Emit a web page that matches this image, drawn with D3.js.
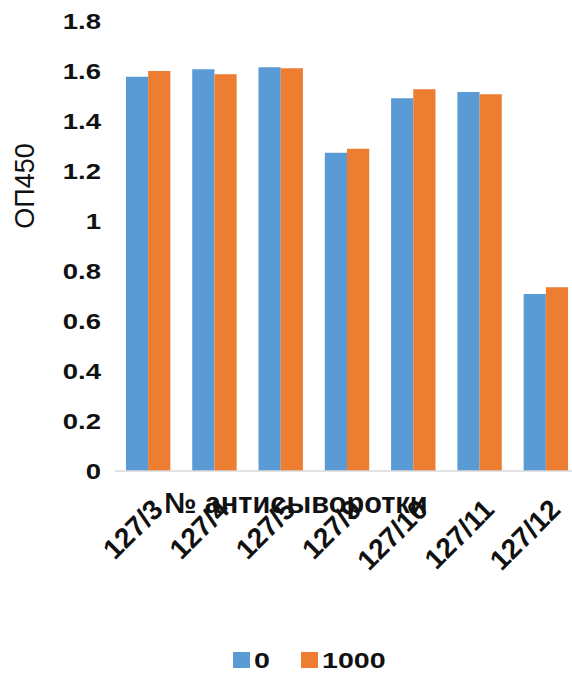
<!DOCTYPE html>
<html>
<head>
<meta charset="utf-8">
<script src="https://cdn.jsdelivr.net/npm/d3@7/dist/d3.min.js"></script>
<style>
  html, body { margin: 0; padding: 0; background: #fff; }
  svg { display: block; font-family: "Liberation Sans", Arial, sans-serif; }
</style>
</head>
<body>
<svg id="chart" width="572" height="676"></svg>
<script>
// Antiserum numbers along the x axis
const categories = ["127/3", "127/4", "127/5", "127/9", "127/10", "127/11", "127/12"];
// Series names (dilution) shown in the legend
const seriesNames = ["0", "1000"];
// OD450 readings per antiserum for each series
const values0 = [1.577, 1.607, 1.615, 1.273, 1.491, 1.516, 0.708];
const values1000 = [1.600, 1.587, 1.611, 1.289, 1.527, 1.507, 0.735];
// Y axis tick values
const yTicks = [0, 0.2, 0.4, 0.6, 0.8, 1, 1.2, 1.4, 1.6, 1.8];

const colors = ["#5b9bd5", "#ed7d31"];
const seriesValues = [values0, values1000];

const svg = d3.select("#chart");

const y = d3.scaleLinear().domain([0, 1.8]).range([471, 21]);
const x = d3.scaleBand().domain(categories).range([115, 579])
  .paddingInner(0.33).paddingOuter(0.165);
const xs = d3.scaleBand().domain(d3.range(seriesNames.length))
  .range([0, x.bandwidth()]);

// Bars
const groups = svg.append("g").selectAll("g")
  .data(categories)
  .join("g")
  .attr("transform", d => `translate(${x(d)},0)`);

groups.selectAll("rect")
  .data((d, i) => seriesValues.map((vals, s) => ({ s, v: vals[i] })))
  .join("rect")
  .attr("x", d => xs(d.s))
  .attr("width", xs.bandwidth())
  .attr("y", d => y(d.v))
  .attr("height", d => y(0) - y(d.v))
  .attr("fill", d => colors[d.s]);

// Baseline
svg.append("line")
  .attr("x1", 115).attr("x2", 579)
  .attr("y1", y(0)).attr("y2", y(0))
  .attr("stroke", "#d9d9d9").attr("stroke-width", 1.5);

// Y tick labels (wide bold digits)
svg.append("g").selectAll("text")
  .data(yTicks)
  .join("text")
  .attr("transform", d => `translate(101,${y(d)}) scale(1.25,1)`)
  .attr("text-anchor", "end")
  .attr("dy", "0.36em")
  .attr("font-weight", "bold")
  .attr("font-size", 22)
  .attr("fill", "#111")
  .text(d => d3.format("~g")(d));

// Y axis title
svg.append("text")
  .attr("transform", "translate(34,186) rotate(-90)")
  .attr("text-anchor", "middle")
  .attr("font-size", 27)
  .attr("fill", "#111")
  .text("ОП450");

// X tick labels, rotated
svg.append("g").selectAll("text")
  .data(categories)
  .join("text")
  .attr("transform", d => `translate(${x(d) + x.bandwidth() / 2 + 2},${497}) rotate(-45)`)
  .attr("text-anchor", "end")
  .attr("dy", "0.72em")
  .attr("font-weight", "bold")
  .attr("font-size", 28)
  .attr("fill", "#111")
  .text(d => d);

// X axis title
svg.append("text")
  .attr("x", 296).attr("y", 513)
  .attr("text-anchor", "middle")
  .attr("font-weight", "bold")
  .attr("font-size", 29)
  .attr("fill", "#111")
  .text("№ антисыворотки");

// Legend
const legendX = [233, 301];
const legend = svg.append("g").selectAll("g")
  .data(seriesNames)
  .join("g")
  .attr("transform", (d, i) => `translate(${legendX[i]},652)`);
legend.append("rect")
  .attr("width", 17).attr("height", 16)
  .attr("fill", (d, i) => colors[i]);
legend.append("text")
  .attr("transform", "translate(21,16) scale(1.3,1)")
  .attr("font-weight", "bold")
  .attr("font-size", 22)
  .attr("fill", "#111")
  .text(d => d);
</script>
</body>
</html>
